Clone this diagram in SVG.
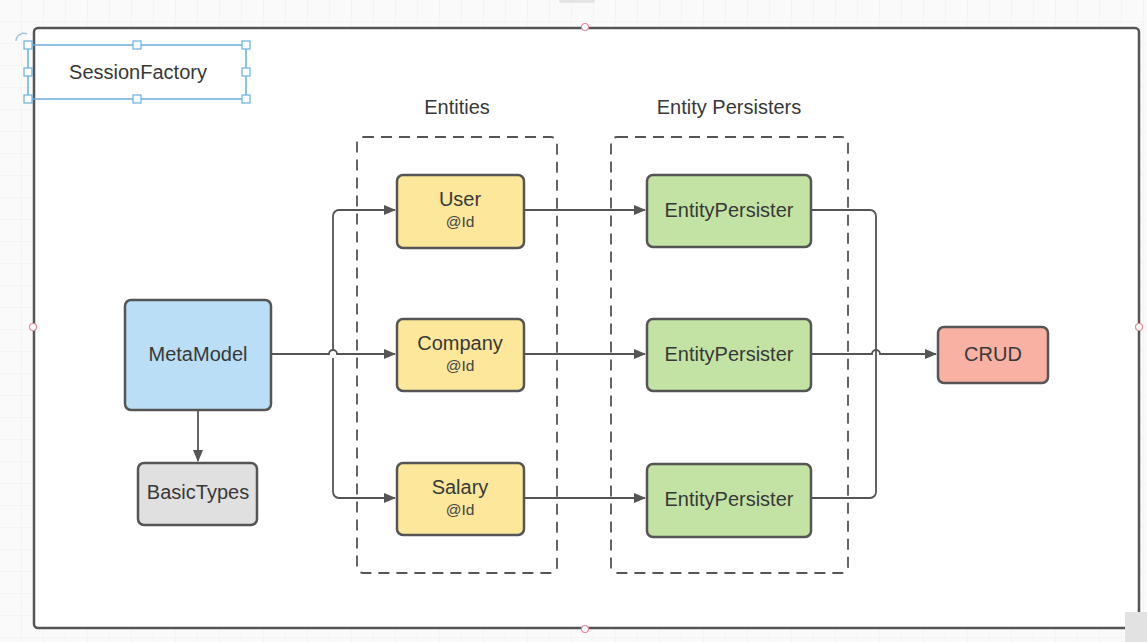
<svg xmlns="http://www.w3.org/2000/svg" width="1147" height="642" viewBox="0 0 1147 642">
<defs>
<pattern id="grid" width="22" height="22" patternUnits="userSpaceOnUse"><path d="M22 0V22H0" fill="none" stroke="#eeeeee" stroke-width="1"/></pattern>
<marker id="arr" viewBox="0 0 12 10" refX="11" refY="5" markerWidth="12" markerHeight="10" markerUnits="userSpaceOnUse" orient="auto"><path d="M0 0L12 5L0 10Z" fill="#555"/></marker>
<style>
.node{stroke:#555;stroke-width:2.5}
.t{font-family:"Liberation Sans",Arial,sans-serif;font-size:20px;fill:#383838;text-anchor:middle;dominant-baseline:central}
.s{font-family:"Liberation Sans",Arial,sans-serif;font-size:15.5px;fill:#444;text-anchor:middle;dominant-baseline:central}
.c{fill:none;stroke:#555;stroke-width:1.8}
.dash{fill:none;stroke:#555;stroke-width:1.8;stroke-dasharray:11 7}
.h{fill:#fff;stroke:#6ab0de;stroke-width:1.2}
.dot{fill:#fff;stroke:#e58a9a;stroke-width:1.2}
</style>
</defs>
<rect width="1147" height="642" fill="#fafafa"/>
<rect width="1147" height="642" fill="url(#grid)"/>
<rect x="559" y="-6" width="36" height="9" rx="3" fill="#e4e4e4"/>
<rect x="34" y="28" width="1105" height="600" rx="4" fill="#fff" stroke="#555" stroke-width="2.5"/>
<rect x="1125" y="612" width="22" height="30" fill="#e2e2e2"/>
<circle class="dot" cx="585" cy="27" r="3.5"/>
<circle class="dot" cx="33" cy="327" r="3.5"/>
<circle class="dot" cx="1139" cy="327" r="3.5"/>
<circle class="dot" cx="585" cy="629" r="3.5"/>

<g id="session-factory">
<rect x="28" y="45" width="218" height="54" fill="none" stroke="#6ab0de" stroke-width="1.5"/>
<text class="t" x="138" y="72">SessionFactory</text>
<rect class="h" x="24" y="41" width="8" height="8"/><rect class="h" x="133" y="41" width="8" height="8"/><rect class="h" x="242" y="41" width="8" height="8"/>
<rect class="h" x="24" y="68" width="8" height="8"/><rect class="h" x="242" y="68" width="8" height="8"/>
<rect class="h" x="24" y="95" width="8" height="8"/><rect class="h" x="133" y="95" width="8" height="8"/><rect class="h" x="242" y="95" width="8" height="8"/>
<path d="M16 41A8 8 0 0 1 27 34" fill="none" stroke="#9cc7e6" stroke-width="1.5"/>
</g>

<g id="entities-group">
<rect class="dash" x="357" y="137" width="200" height="436" rx="6"/>
<text class="t" x="457" y="107">Entities</text>
</g>
<g id="persisters-group">
<rect class="dash" x="611" y="137" width="237" height="436" rx="6"/>
<text class="t" x="729" y="107">Entity Persisters</text>
</g>

<g id="connectors">
<path class="c" d="M271 354H329a4 4 0 0 1 8 0H395" marker-end="url(#arr)"/>
<path class="c" d="M333 350V216a6 6 0 0 1 6-6H395" marker-end="url(#arr)"/>
<path class="c" d="M333 358V492a6 6 0 0 0 6 6H395" marker-end="url(#arr)"/>
<path class="c" d="M198 410V461" marker-end="url(#arr)"/>
<path class="c" d="M524 210H645" marker-end="url(#arr)"/>
<path class="c" d="M524 354H645" marker-end="url(#arr)"/>
<path class="c" d="M524 498H645" marker-end="url(#arr)"/>
<path class="c" d="M811 210H870a6 6 0 0 1 6 6V492a6 6 0 0 1-6 6H811"/>
<path class="c" d="M811 354H872a4 4 0 0 1 8 0H936" marker-end="url(#arr)"/>
</g>

<g id="metamodel"><rect class="node" x="125" y="300" width="146" height="110" rx="6" fill="#b9def5"/><text class="t" x="198" y="354">MetaModel</text></g>
<g id="basictypes"><rect class="node" x="138" y="463" width="119" height="62" rx="6" fill="#e0e0e0"/><text class="t" x="198" y="492">BasicTypes</text></g>
<g id="user"><rect class="node" x="397" y="175" width="127" height="73" rx="6" fill="#fde79b"/><text class="t" x="460" y="199">User</text><text class="s" x="460" y="221">@Id</text></g>
<g id="company"><rect class="node" x="397" y="319" width="127" height="72" rx="6" fill="#fde79b"/><text class="t" x="460" y="343">Company</text><text class="s" x="460" y="365">@Id</text></g>
<g id="salary"><rect class="node" x="397" y="463" width="127" height="72" rx="6" fill="#fde79b"/><text class="t" x="460" y="487">Salary</text><text class="s" x="460" y="509">@Id</text></g>
<g id="persister-1"><rect class="node" x="647" y="175" width="164" height="72" rx="6" fill="#c3e3a4"/><text class="t" x="729" y="210">EntityPersister</text></g>
<g id="persister-2"><rect class="node" x="647" y="319" width="164" height="72" rx="6" fill="#c3e3a4"/><text class="t" x="729" y="354">EntityPersister</text></g>
<g id="persister-3"><rect class="node" x="647" y="464" width="164" height="73" rx="6" fill="#c3e3a4"/><text class="t" x="729" y="499">EntityPersister</text></g>
<g id="crud"><rect class="node" x="938" y="327" width="110" height="56" rx="6" fill="#f9b1a3"/><text class="t" x="993" y="354">CRUD</text></g>
</svg>
